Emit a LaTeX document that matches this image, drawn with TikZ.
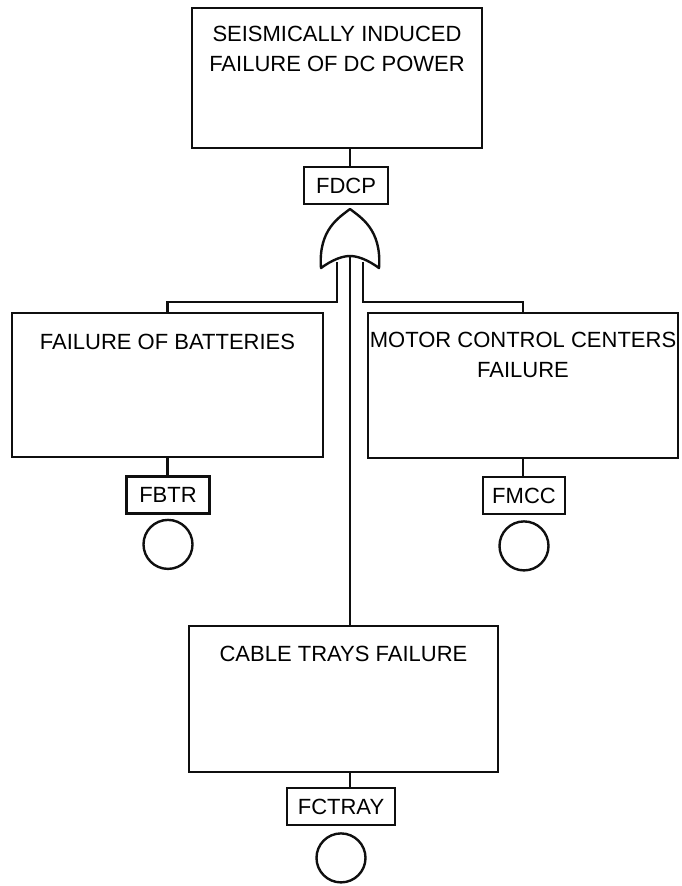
\documentclass[tikz,border=0pt]{standalone}
\usepackage{fontspec}
\setmainfont{Liberation Sans}
\usetikzlibrary{positioning}
\definecolor{lineColor}{RGB}{15,15,15}
\newcommand{\treefont}{\fontsize{22}{30}\selectfont}
\begin{document}
\begin{tikzpicture}[x=1pt, y=-1pt,
        evt/.style={draw=lineColor, line width=2.6pt, minimum width=310pt, minimum height=145pt, inner sep=0pt},
        evtxt/.style={anchor=north, yshift=-19pt, inner sep=0pt, align=center, font=\treefont},
        tag/.style={draw=lineColor, line width=2.4pt, minimum height=37pt, inner sep=2pt, font=\treefont},
        basic/.style={draw=lineColor, line width=2.4pt, circle, minimum size=49pt, inner sep=0pt},
        gate/.style={draw=lineColor, line width=2.4pt, line join=round},
        wire/.style={draw=lineColor, line width=2.3pt}
      ]
      \useasboundingbox (0,0) rectangle (681,886);
      \node[evt, minimum width=290pt, minimum height=140pt, label={[evtxt]north:SEISMICALLY INDUCED\\FAILURE OF DC POWER}] (top) at (337,78) {};
      \node[tag, minimum width=84pt] (fdcp) at (346,185.5) {FDCP};

      \coordinate (orTop) at (350,209);
      \coordinate (orIn) at (350,256);
      \coordinate (inL) at (337,262);
      \coordinate (inR) at (363,262);
      \coordinate (bus) at (0,302);
      \draw[gate, shift={(orTop)}] (0,0) .. controls (-10,8) and (-32,20) .. (-29,59)
        .. controls (-18,51) and (-8,47) .. (0,47)
        .. controls (8,47) and (18,51) .. (29,59)
        .. controls (32,20) and (10,8) .. (0,0) -- cycle;

      \node[evt, minimum width=311pt, minimum height=144pt, label={[evtxt, yshift=-3pt]north:FAILURE OF BATTERIES}] (batt) at (167.5,385) {};
      \node[evt, minimum width=310pt, label={[evtxt, yshift=-1pt]north:MOTOR CONTROL CENTERS\\FAILURE}] (mcc) at (523,385.5) {};
      \node[evt, minimum width=309pt, minimum height=146pt, label={[evtxt, yshift=-2pt]north:CABLE TRAYS FAILURE}] (cable) at (343.5,699) {};

      \node[tag, minimum width=83pt] (fbtr) at (168,495) {FBTR};
      \node[basic, below=4pt of fbtr] (fbtrEv) {};
      \node[tag, minimum width=82pt] (fmcc) at (524,495.5) {FMCC};
      \node[basic, below=5pt of fmcc] (fmccEv) {};
      \node[tag, minimum width=108pt] (fctray) at (341,806.5) {FCTRAY};
      \node[basic, below=6pt of fctray] (fctrayEv) {};

      \draw[wire] (top.south -| orTop) -- (fdcp.north -| orTop);
      \draw[wire] (inL) -- (inL |- bus) -| (batt.north);
      \draw[wire] (inR) -- (inR |- bus) -| (mcc.north);
      \draw[wire] (orIn) -- (cable.north -| orIn);
      \draw[wire] (batt.south) -- (fbtr.north -| batt.south);
      \draw[wire] (mcc.south) -- (fmcc.north -| mcc.south);
      \draw[wire] (cable.south -| orTop) -- (fctray.north -| orTop);
    \end{tikzpicture}
\end{document}
